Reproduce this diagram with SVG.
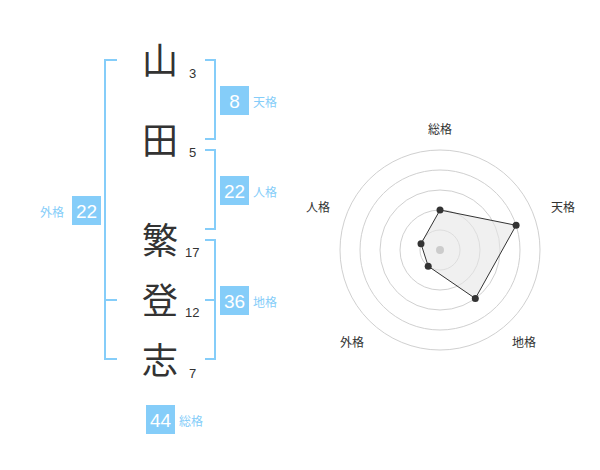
<svg xmlns="http://www.w3.org/2000/svg" width="600" height="470" viewBox="0 0 600 470">
<style>
.kanji{font-family:"Noto Sans CJK JP","Noto Sans CJK SC",sans-serif;font-size:36px;fill:#333;text-anchor:middle}
.stroke{font-family:"Liberation Sans",Arial,sans-serif;font-size:13px;fill:#333}
.br{fill:none;stroke:#85cdf9;stroke-width:2}
.box{fill:#85cdf9}
.num{font-family:"Liberation Sans",Arial,sans-serif;font-size:19px;fill:#fff;text-anchor:middle}
.lbl{font-family:"Noto Sans CJK JP","Noto Sans CJK SC",sans-serif;font-size:12px;fill:#85cdf9}
.ring{fill:none;stroke:#d0d0d0;stroke-width:1}
.axl{font-family:"Noto Sans CJK JP","Noto Sans CJK SC",sans-serif;font-size:12px;fill:#333;text-anchor:middle}
.pt{fill:#333}
</style>
<rect width="600" height="470" fill="#fff"/>
<g id="name">
<g id="c1"><text class="kanji" x="160" y="74">山</text><text class="stroke" x="189" y="78">3</text></g>
<g id="c2"><text class="kanji" x="160" y="154">田</text><text class="stroke" x="189" y="157">5</text></g>
<g id="c3"><text class="kanji" x="160" y="254">繁</text><text class="stroke" x="185" y="257">17</text></g>
<g id="c4"><text class="kanji" x="160" y="314">登</text><text class="stroke" x="185" y="317">12</text></g>
<g id="c5"><text class="kanji" x="160" y="374">志</text><text class="stroke" x="189" y="378">7</text></g>
</g>
<g id="connectors">
<polyline class="br" points="117,60 105,60 105,359 117,359"/>
<line class="br" x1="105" y1="300" x2="117" y2="300"/>
<polyline class="br" points="205,60 215,60 215,139 205,139"/>
<polyline class="br" points="205,150 215,150 215,229 205,229"/>
<polyline class="br" points="205,240 215,240 215,359 205,359"/>
<line class="br" x1="215" y1="300" x2="205" y2="300"/>
</g>
<g id="tenkaku"><rect class="box" x="220" y="86" width="29" height="29"/><text class="num" x="234.5" y="107.5">8</text><text class="lbl" x="253" y="107">天格</text></g>
<g id="jinkaku"><rect class="box" x="220" y="176" width="29" height="29"/><text class="num" x="234.5" y="197.5">22</text><text class="lbl" x="253" y="197">人格</text></g>
<g id="chikaku"><rect class="box" x="220" y="286" width="29" height="29"/><text class="num" x="234.5" y="307.5">36</text><text class="lbl" x="253" y="307">地格</text></g>
<g id="gaikaku"><rect class="box" x="72" y="196" width="29" height="29"/><text class="num" x="86.5" y="217.5">22</text><text class="lbl" x="40" y="217">外格</text></g>
<g id="soukaku"><rect class="box" x="146" y="405" width="29" height="29"/><text class="num" x="160.5" y="426.5">44</text><text class="lbl" x="179" y="426">総格</text></g>
<g id="radar">
<circle class="ring" cx="440" cy="250" r="20"/>
<circle class="ring" cx="440" cy="250" r="40"/>
<circle class="ring" cx="440" cy="250" r="60"/>
<circle class="ring" cx="440" cy="250" r="80"/>
<circle class="ring" cx="440" cy="250" r="100"/>
<polygon points="440,210 516.1,225.3 475.3,298.5 428.2,266.2 421,243.8" fill="#e6e6e6" fill-opacity="0.6" stroke="#333" stroke-width="1"/>
<circle cx="440" cy="250" r="4" fill="#ccc"/>
<circle class="pt" cx="440" cy="210" r="3.5"/>
<circle class="pt" cx="516.1" cy="225.3" r="3.5"/>
<circle class="pt" cx="475.3" cy="298.5" r="3.5"/>
<circle class="pt" cx="428.2" cy="266.2" r="3.5"/>
<circle class="pt" cx="421" cy="243.8" r="3.5"/>
<text class="axl" x="440" y="134">総格</text>
<text class="axl" x="563" y="212">天格</text>
<text class="axl" x="524" y="347">地格</text>
<text class="axl" x="352" y="347">外格</text>
<text class="axl" x="318" y="212">人格</text>
</g>
</svg>
